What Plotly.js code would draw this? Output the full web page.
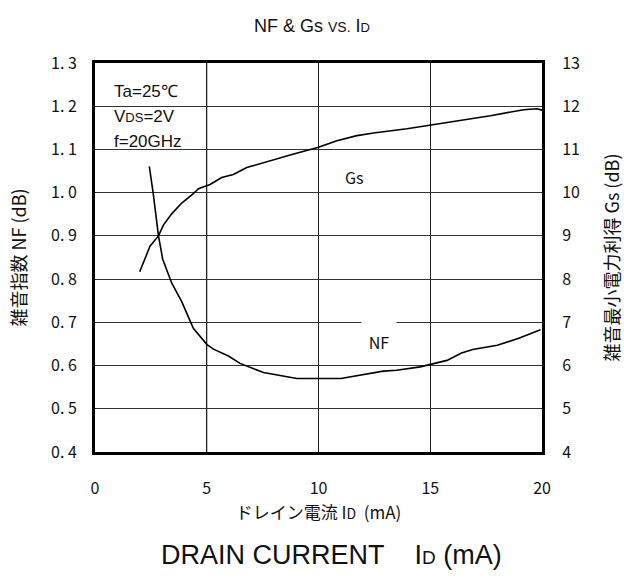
<!DOCTYPE html>
<html>
<head>
<meta charset="utf-8">
<script src="https://cdn.plot.ly/plotly-3.0.1.min.js"></script>
<style>html,body{margin:0;padding:0;background:#fff;}#chart{width:624px;height:579px;}</style>
</head>
<body>
<div id="chart"></div>
<script>
// ---- data ----
const gsId  = [2.0, 2.46, 2.84, 3.06, 3.43, 3.88, 4.40, 4.63, 4.93, 5.15, 5.67, 6.19, 6.79, 7.84, 8.73, 10.0, 10.82, 11.72, 12.46, 13.96, 15.0, 16.19, 17.69, 19.18, 19.78, 20.0];
const gsVal = [8.17, 8.76, 9.0, 9.25, 9.51, 9.76, 9.98, 10.09, 10.15, 10.19, 10.35, 10.42, 10.58, 10.74, 10.87, 11.05, 11.20, 11.32, 11.38, 11.48, 11.56, 11.65, 11.78, 11.92, 11.94, 11.91];

const nfId  = [2.43, 2.6, 2.84, 3.03, 3.43, 3.88, 4.4, 5.0, 5.3, 5.97, 6.49, 7.54, 9.03, 11.0, 12.9, 13.5, 14.55, 15.0, 15.75, 16.4, 16.9, 18.0, 18.96, 19.93];
const nfVal = [1.061, 1.0, 0.9, 0.846, 0.791, 0.748, 0.686, 0.649, 0.638, 0.622, 0.605, 0.584, 0.570, 0.570, 0.587, 0.589, 0.597, 0.603, 0.612, 0.629, 0.637, 0.647, 0.663, 0.683];

const xTicks = [0, 5, 10, 15, 20];
const xTickText = ["0", "5", "10", "15", "20"];
const nfTicks = [0.4, 0.5, 0.6, 0.7, 0.8, 0.9, 1.0, 1.1, 1.2, 1.3];
const nfTickText = ["0. 4", "0. 5", "0. 6", "0. 7", "0. 8", "0. 9", "1. 0", "1. 1", "1. 2", "1. 3"];
const gsTicks = [4, 5, 6, 7, 8, 9, 10, 11, 12, 13];
const gsTickText = ["4", "5", "6", "7", "8", "9", "10", "11", "12", "13"];
const conditions = ["Ta=25\u2103", "V<span style=\"font-size:13px\">DS</span>=2V", "f=20GHz"];

const gothic = '"Noto Sans CJK JP", "Noto Sans", sans-serif';
const arial = '"Liberation Sans", Arial, sans-serif';

const traces = [
  {x: nfId, y: nfVal, type: 'scatter', mode: 'lines', name: 'NF', yaxis: 'y',
   line: {color: '#000', width: 1.6}, hoverinfo: 'skip', showlegend: false},
  {x: gsId, y: gsVal, type: 'scatter', mode: 'lines', name: 'Gs', yaxis: 'y2',
   line: {color: '#000', width: 1.6}, hoverinfo: 'skip', showlegend: false}
];

const annotations = conditions.map((t, i) => ({
  xref: 'paper', yref: 'paper', x: 0.038, y: 0.927 - i * 0.064,
  xanchor: 'left', yanchor: 'middle', showarrow: false,
  text: t, font: {family: arial, size: 17, color: '#111'}
}));
annotations.push({
  xref: 'x', yref: 'y', x: 12.7, y: 0.703, yanchor: 'top', showarrow: false,
  text: 'NF', bgcolor: '#fff', width: 32, height: 38, valign: 'middle',
  font: {family: gothic, size: 16, color: '#111'}
});
annotations.push({
  xref: 'x', yref: 'y2', x: 11.6, y: 10.36, showarrow: false,
  text: 'Gs', font: {family: gothic, size: 16, color: '#111'}
});
annotations.push({
  xref: 'paper', yref: 'paper', x: 0.528, y: -0.265, yanchor: 'middle', showarrow: false,
  text: 'DRAIN CURRENT\u00A0\u00A0\u00A0\u00A0I<span style="font-size:19px">D</span> (mA)',
  font: {family: arial, size: 27, color: '#111'}
});

const shapes = [
  // white label box behind the conditions text
  {type: 'rect', xref: 'paper', yref: 'paper', x0: 0.022, x1: 0.246, y0: 0.76, y1: 0.995,
   fillcolor: '#fff', line: {width: 0}, layer: 'between'},
  // the 5 mA grid line is lighter grey in the reference
  {type: 'line', xref: 'x', yref: 'paper', x0: xTicks[1], x1: xTicks[1], y0: 0, y1: 1,
   line: {color: '#8a8a8a', width: 1.6}, layer: 'between'}
];

const layout = {
  width: 624, height: 579,
  margin: {l: 95, r: 82, t: 63, b: 127},
  paper_bgcolor: '#fff', plot_bgcolor: '#fff',
  title: {
    text: 'NF & Gs <span style="font-size:14px">VS.</span> I<span style="font-size:13px">D</span>',
    font: {family: arial, size: 18, color: '#111'},
    x: 0.5, xanchor: 'center', y: 0.956, yref: 'container', yanchor: 'middle'
  },
  xaxis: {
    range: [0, 20], tickvals: xTicks, ticktext: xTickText,
    showgrid: true, gridcolor: '#222', gridwidth: 1,
    showline: true, linecolor: '#000', linewidth: 3, mirror: true,
    ticks: '', ticklabelstandoff: 20, zeroline: false,
    tickfont: {family: gothic, size: 16, color: '#111'},
    title: {text: 'ドレイン電流 I<span style="font-size:14px">D</span>\u00A0 (mA)', standoff: 6,
            font: {family: gothic, size: 17, color: '#111'}}
  },
  yaxis: {
    range: [0.4, 1.3], tickvals: nfTicks, ticktext: nfTickText,
    showgrid: true, gridcolor: '#333', gridwidth: 1,
    showline: true, linecolor: '#000', linewidth: 3,
    ticks: 'inside', ticklen: 5, tickcolor: '#333', ticklabelstandoff: 12, zeroline: false,
    tickfont: {family: gothic, size: 16, color: '#111'},
    title: {text: '雑音指数 NF (dB)', standoff: 20, font: {family: gothic, size: 18, color: '#111'}}
  },
  yaxis2: {
    range: [4, 13], tickvals: gsTicks, ticktext: gsTickText,
    overlaying: 'y', side: 'right', showgrid: false,
    showline: true, linecolor: '#000', linewidth: 3,
    ticks: 'inside', ticklen: 5, tickcolor: '#333', ticklabelstandoff: 14, zeroline: false,
    tickfont: {family: gothic, size: 16, color: '#111'},
    title: {text: '雑音最小電力利得 Gs (dB)', standoff: 30, font: {family: gothic, size: 18, color: '#111'}}
  },
  annotations: annotations,
  shapes: shapes,
  showlegend: false
};

Plotly.newPlot('chart', traces, layout, {displayModeBar: false, staticPlot: true});
</script>
</body>
</html>
